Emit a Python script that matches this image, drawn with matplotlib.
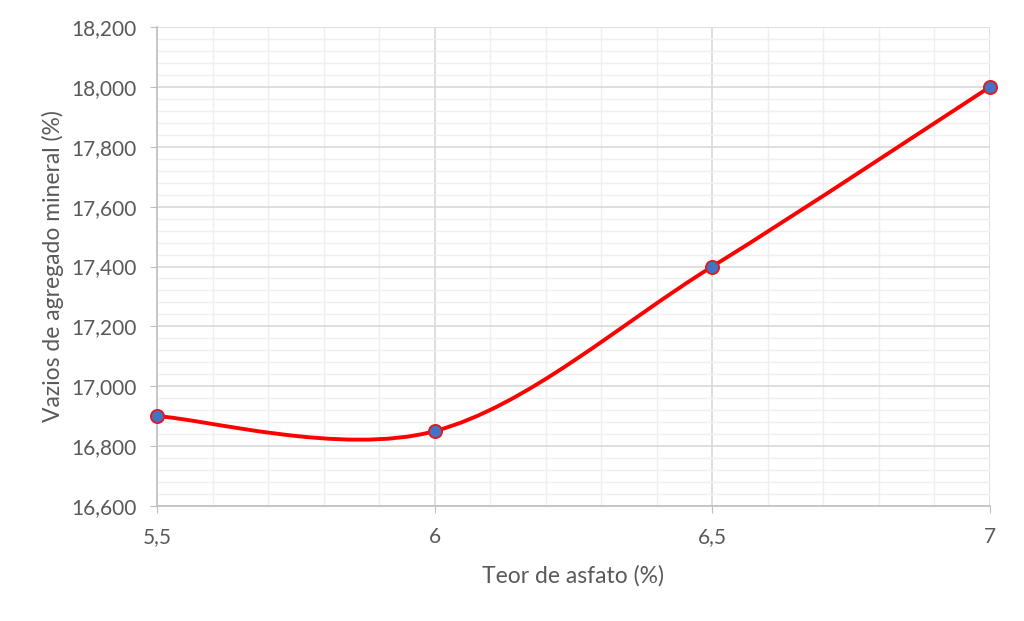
import matplotlib.pyplot as plt
from matplotlib.path import Path
from matplotlib.patches import PathPatch
from matplotlib.ticker import MultipleLocator, FuncFormatter

teor = [5.5, 6.0, 6.5, 7.0]
vam = [16.90, 16.85, 17.40, 18.00]

plt.rcParams['font.family'] = ['Lato', 'DejaVu Sans']

fig = plt.figure(figsize=(10.24, 6.21), dpi=100)
ax = fig.add_axes([0.1533, 0.1852, 0.8135, 0.7713])

# smoothed line like Excel (Catmull-Rom -> bezier)
verts = [(teor[0], vam[0])]
codes = [Path.MOVETO]
n = len(teor)
for i in range(n - 1):
    p0 = (teor[max(i - 1, 0)], vam[max(i - 1, 0)])
    p1 = (teor[i], vam[i])
    p2 = (teor[i + 1], vam[i + 1])
    p3 = (teor[min(i + 2, n - 1)], vam[min(i + 2, n - 1)])
    c1 = (p1[0] + (p2[0] - p0[0]) / 6, p1[1] + (p2[1] - p0[1]) / 6)
    c2 = (p2[0] - (p3[0] - p1[0]) / 6, p2[1] - (p3[1] - p1[1]) / 6)
    verts += [c1, c2, p2]
    codes += [Path.CURVE4] * 3
ax.add_patch(PathPatch(Path(verts, codes), fill=False, edgecolor='#ff0000',
                       lw=2.8, zorder=3, capstyle='round'))
ax.plot(teor, vam, 'o', ms=9.5, mfc='#4472c4', mec='#e31a1c', mew=1.3, zorder=4,
        clip_on=False)

ax.set_xlim(5.5, 7.0)
ax.set_ylim(16.6, 18.2)
ax.xaxis.set_major_locator(MultipleLocator(0.5))
ax.xaxis.set_minor_locator(MultipleLocator(0.1))
ax.yaxis.set_major_locator(MultipleLocator(0.2))
ax.yaxis.set_minor_locator(MultipleLocator(0.04))
ax.xaxis.set_major_formatter(FuncFormatter(lambda v, p: ('%g' % v).replace('.', ',')))
ax.yaxis.set_major_formatter(FuncFormatter(lambda v, p: ('%.3f' % v).replace('.', ',')))

ax.grid(which='major', color='#d9d9d9', lw=1.2)
ax.grid(which='minor', color='#efefef', lw=1.0)
ax.set_axisbelow(True)
for s in ['top', 'right']:
    ax.spines[s].set_visible(False)
for s in ['left', 'bottom']:
    ax.spines[s].set_color('#bfbfbf')
    ax.spines[s].set_linewidth(1.2)
ax.tick_params(which='major', length=5, color='#bfbfbf', labelsize=15,
               labelcolor='#595959', pad=10)
ax.tick_params(which='minor', length=0)

ax.set_xlabel('Teor de asfato (%)', fontsize=16.5, color='#595959', labelpad=13)
ax.set_ylabel('Vazios de agregado mineral (%)', fontsize=16.5, color='#595959', labelpad=5)

fig.savefig('out.png', dpi=100)
